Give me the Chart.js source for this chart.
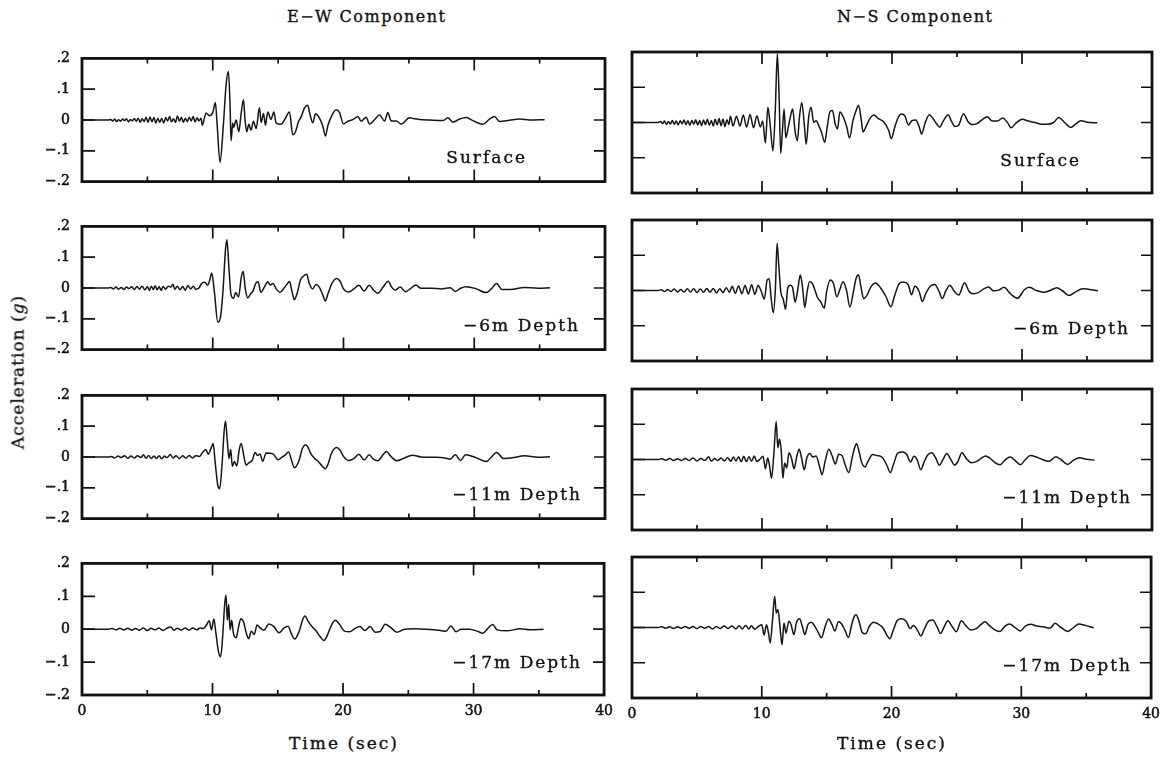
<!DOCTYPE html>
<html>
<head>
<meta charset="utf-8">
<script src="https://cdn.jsdelivr.net/npm/chart.js@4.4.1/dist/chart.umd.min.js"></script>
<style>
  body { margin: 0; background: #fff; width: 1164px; height: 768px; position: relative; overflow: hidden;
         font-family: "DejaVu Serif", serif; color: #111; }
  canvas { position: absolute; }
  .txt { position: absolute; white-space: nowrap; line-height: 1; -webkit-text-stroke: 0.35px #111; }
</style>
</head>
<body>
<script>
// tick positions and labels
const timeTicks = [5, 10, 15, 20, 25, 30, 35];
const accelTicks = [-0.1, 0, 0.1];
const componentTitles = ["E−W Component", "N−S Component"];
const depthLabels = ["Surface", "−6m Depth", "−11m Depth", "−17m Depth"];

// [time (s), acceleration (g)]
const ewSurface = [[0,0],[2.0,0],[2.2,.002],[2.35,-.003],[2.5,.003],[2.65,-.005],[2.8,.001],[2.95,-.004],[3.1,.003],[3.25,-.002],[3.4,.004],[3.55,-.006],[3.7,.002],[3.85,-.003],[4.0,.005],[4.15,-.004],[4.3,.006],[4.45,-.007],[4.6,.004],[4.75,-.005],[4.9,.009],[5.05,-.008],[5.2,.01],[5.35,-.006],[5.5,.008],[5.65,-.01],[5.8,.006],[5.95,-.007],[6.1,.005],[6.25,-.01],[6.4,.008],[6.55,-.003],[6.7,.011],[6.85,-.006],[7.0,.004],[7.15,-.008],[7.3,.013],[7.45,-.004],[7.6,.009],[7.75,-.007],[7.9,.006],[8.05,-.005],[8.2,.009],[8.35,-.003],[8.5,.011],[8.65,-.006],[8.8,.007],[8.95,-.003],[9.1,.006],[9.2,-.017],
  [9.49,.023],[9.74,.014],[10.0,.024],[10.2,.057],[10.33,-.011],[10.56,-.137],[10.82,-.011],[11.02,.114],[11.2,.158],[11.33,.039],[11.4,-.067],[11.53,-.01],[11.6,-.024],[11.79,0],[11.99,-.038],[12.17,.02],[12.35,.066],[12.47,0],[12.6,-.038],[12.76,-.014],[12.93,-.033],[13.11,-.004],[13.32,-.028],[13.57,.04],[13.7,-.008],[13.88,.021],[14.03,-.017],[14.21,.026],[14.46,.002],[14.67,.026],[14.85,-.01],[15.23,-.014],[15.48,0],[15.87,.026],[16.12,-.048],[16.33,-.038],[16.56,-.005],[16.76,.01],[17.02,.039],[17.27,.048],[17.4,.025],[17.65,-.009],[17.86,.02],[18.11,.01],[18.42,-.02],[18.62,-.052],[18.8,-.019],[19.06,.01],[19.44,.033],[19.69,.025],[20.0,-.013],[20.33,-.004],[20.71,.001],[21.1,.011],[21.35,-.004],[21.73,.009],[21.99,-.013],[22.37,.001],[22.76,.016],[23.14,-.003],[23.39,.024],[23.65,-.003],[24.03,-.003],[24.41,-.013],[25.05,.007],[25.43,.004],[25.82,.002],[26.58,0],[27.6,-.002],[27.98,.007],[28.37,-.007],[28.88,.003],[29.39,.008],[29.9,-.002],[30.66,-.014],[31.17,.003],[31.56,.011],[31.94,-.005],[32.7,-.001],[33.47,.003],[34.23,0],[35.38,.001]];

const ew6m = [[0,0],[2.0,0],[2.2,.002],[2.4,-.003],[2.6,.003],[2.8,-.004],[3.0,.002],[3.2,-.005],[3.4,.003],[3.6,-.002],[3.8,.004],[4.0,-.005],[4.2,.005],[4.4,-.004],[4.6,.006],[4.8,-.006],[5.0,.004],[5.15,-.007],[5.3,.006],[5.45,-.005],[5.6,.007],[5.75,-.006],[5.9,.004],[6.05,-.008],[6.2,.005],[6.4,-.004],[6.6,.006],[6.8,.003],[6.95,.012],[7.1,-.004],[7.3,.006],[7.5,-.006],[7.7,.005],[7.9,-.007],[8.1,.008],[8.3,-.003],[8.5,.006],[8.7,-.004],[8.95,0],
  [9.13,.014],[9.39,.019],[9.6,.009],[9.76,.024],[9.92,.049],[10.13,-.015],[10.39,-.111],[10.6,-.093],[10.79,-.005],[10.97,.122],[11.08,.157],[11.24,.064],[11.39,-.02],[11.58,-.034],[11.76,-.015],[11.97,-.029],[12.18,.034],[12.32,.054],[12.5,-.005],[12.68,-.032],[12.89,-.019],[13.08,-.01],[13.29,.015],[13.47,.02],[13.68,-.014],[13.95,.003],[14.21,.02],[14.39,.01],[14.6,.015],[14.87,-.004],[15.13,-.014],[15.39,-.004],[15.66,.011],[15.87,.021],[16.05,-.009],[16.24,-.038],[16.45,-.018],[16.71,.026],[16.97,.04],[17.18,.045],[17.37,.016],[17.63,-.003],[17.89,.011],[18.16,.002],[18.42,-.023],[18.61,-.042],[18.82,-.018],[19.08,.012],[19.47,.031],[19.74,.022],[20.0,-.003],[20.4,-.013],[20.79,-.003],[21.18,.009],[21.58,-.01],[21.97,.009],[22.29,-.007],[22.63,-.017],[23.03,.003],[23.42,.022],[23.68,.003],[23.95,-.007],[24.34,.003],[24.74,-.012],[25.13,-.002],[25.53,.01],[25.92,-.001],[26.71,-.001],[27.5,-.003],[28.16,.001],[28.55,-.011],[28.95,-.001],[29.34,.004],[30.13,-.002],[30.92,-.015],[31.32,-.002],[31.71,.015],[32.11,-.005],[32.76,-.005],[33.82,.002],[34.87,-.001],[35.79,.001]];

const ew11m = [[0,0],[2.0,0],[2.25,.002],[2.5,-.003],[2.75,.003],[3.0,-.002],[3.25,.004],[3.5,-.004],[3.75,.003],[4.0,-.003],[4.25,.004],[4.5,-.002],[4.7,.007],[4.9,-.004],[5.1,.005],[5.3,-.005],[5.5,.003],[5.7,-.005],[5.9,.004],[6.1,-.006],[6.3,.003],[6.5,-.002],[6.75,.008],[6.95,-.003],[7.2,.004],[7.45,-.005],[7.7,.004],[7.95,-.004],[8.2,.005],[8.45,-.003],[8.7,.004],[9.0,.002],
  [9.2,.014],[9.47,.024],[9.66,.009],[9.87,.029],[10.03,.044],[10.18,-.015],[10.39,-.093],[10.53,-.103],[10.71,-.025],[10.87,.083],[10.97,.117],[11.13,.044],[11.24,-.005],[11.37,.024],[11.5,-.03],[11.66,-.015],[11.84,-.029],[12.03,.025],[12.18,.044],[12.37,.005],[12.55,-.026],[12.76,-.019],[13.03,-.01],[13.24,.015],[13.42,.005],[13.61,.01],[13.82,-.014],[14.08,.013],[14.61,.01],[15.0,-.009],[15.26,-.002],[15.53,.006],[15.79,.016],[16.05,-.014],[16.24,-.035],[16.58,-.014],[16.84,.026],[17.11,.04],[17.29,.031],[17.5,.011],[17.76,-.003],[18.03,-.013],[18.34,-.028],[18.61,-.038],[18.82,-.023],[19.08,.012],[19.47,.031],[19.74,.022],[20.0,.002],[20.39,-.011],[20.79,-.005],[21.18,.009],[21.58,-.01],[21.97,.007],[22.29,-.007],[22.63,-.012],[23.03,.008],[23.29,.018],[23.6,.003],[24.08,-.012],[24.61,-.004],[25.26,.006],[25.92,0],[26.97,-.001],[27.76,-.003],[28.16,-.007],[28.55,.007],[28.95,-.011],[29.34,.007],[30.13,-.002],[30.92,-.015],[31.32,0],[31.71,.015],[32.24,-.005],[33.03,-.002],[33.82,.004],[34.87,-.001],[35.79,.001]];

const ew17m = [[0,0],[2.0,0],[2.3,.002],[2.6,-.002],[2.9,.003],[3.2,-.002],[3.5,.003],[3.8,-.003],[4.1,.002],[4.4,-.003],[4.7,.004],[5.0,-.004],[5.3,.003],[5.6,-.002],[5.9,.004],[6.2,-.004],[6.5,.003],[6.8,.007],[7.05,-.003],[7.3,.003],[7.6,-.003],[7.9,.004],[8.2,-.003],[8.5,.004],[8.8,-.002],[9.05,.004],[9.28,.002],
  [9.53,.012],[9.74,.026],[9.92,-.002],[10.1,.031],[10.26,-.012],[10.44,-.065],[10.62,-.084],[10.78,-.021],[10.93,.075],[11.03,.104],[11.14,.027],[11.24,.075],[11.34,-.002],[11.47,.027],[11.6,-.012],[11.81,-.026],[12.0,.008],[12.17,.032],[12.38,.022],[12.58,-.011],[12.77,-.029],[12.97,-.006],[13.2,-.016],[13.41,.013],[13.67,.003],[13.93,-.003],[14.32,.016],[14.7,.008],[15.09,-.011],[15.48,.004],[15.79,.009],[16.05,-.015],[16.3,-.03],[16.64,-.006],[16.9,.028],[17.08,.04],[17.34,.023],[17.6,.009],[17.93,-.005],[18.27,-.024],[18.53,-.034],[18.79,-.019],[19.1,.011],[19.41,.027],[19.74,.014],[20.08,-.005],[20.52,-.008],[20.9,.002],[21.29,.008],[21.68,-.004],[22.07,.008],[22.46,-.009],[22.84,-.007],[23.23,.015],[23.62,.006],[24.13,-.009],[24.65,-.001],[25.43,.001],[26.33,0],[27.36,-.003],[27.88,-.006],[28.27,.01],[28.66,-.008],[29.04,0],[29.69,0],[30.34,-.007],[30.72,-.012],[31.11,.003],[31.45,.014],[31.81,-.002],[32.53,-.005],[33.57,.001],[34.34,-.002],[35.37,0]];

const nsSurface = [[0,0],[2.0,0],[2.2,.003],[2.35,-.003],[2.5,.004],[2.65,-.005],[2.8,.003],[2.95,-.004],[3.1,.006],[3.25,-.005],[3.4,.004],[3.55,-.007],[3.7,.005],[3.85,-.004],[4.0,.007],[4.15,-.006],[4.3,.005],[4.45,-.008],[4.6,.006],[4.75,-.005],[4.9,.008],[5.05,-.007],[5.2,.006],[5.35,-.009],[5.5,.007],[5.65,-.006],[5.8,.009],[5.95,-.008],[6.1,.006],[6.25,-.01],[6.4,.009],[6.55,-.007],[6.7,.011],[6.85,-.009],[7.0,.01],[7.15,-.012],[7.3,.008],[7.45,-.006],
  [7.57,.018],[7.77,-.01],[8.04,.018],[8.3,-.01],[8.56,.021],[8.82,-.013],[9.08,.023],[9.35,-.015],[9.61,.019],[9.87,-.013],[10.05,.004],[10.26,-.058],[10.45,.043],[10.65,-.015],[10.84,-.081],[11.02,.033],[11.18,.195],[11.31,.081],[11.44,-.088],[11.57,-.024],[11.7,.038],[11.83,-.043],[12.02,-.014],[12.2,.019],[12.36,.038],[12.54,-.024],[12.72,-.052],[12.88,.015],[13.06,.057],[13.25,-.004],[13.4,-.062],[13.59,.015],[13.77,.043],[13.98,0],[14.16,.005],[14.37,-.009],[14.58,-.028],[14.82,-.056],[15.03,-.009],[15.21,.029],[15.42,.034],[15.63,-.004],[15.81,-.018],[15.99,.03],[16.26,.015],[16.52,-.013],[16.73,-.044],[17.0,.006],[17.25,.035],[17.43,.049],[17.64,.006],[17.77,-.027],[18.04,-.008],[18.3,.011],[18.61,.021],[18.95,.011],[19.35,.002],[19.74,-.022],[19.95,-.046],[20.18,-.017],[20.45,.012],[20.73,.024],[21.0,.018],[21.26,-.007],[21.52,.005],[21.83,.007],[22.09,-.012],[22.28,-.033],[22.54,-.002],[22.88,.022],[23.14,.012],[23.4,-.002],[23.66,-.013],[23.93,.003],[24.32,.022],[24.58,.003],[24.84,-.011],[25.1,-.009],[25.5,.025],[25.84,.003],[26.15,-.006],[26.54,-.003],[26.94,.008],[27.33,.016],[27.72,.004],[28.12,.004],[28.51,.013],[28.9,-.001],[29.16,-.015],[29.55,-.001],[30.03,.009],[30.47,.004],[30.99,0],[31.52,-.005],[31.91,-.005],[32.43,0],[32.83,.014],[33.22,.002],[33.74,-.014],[34.14,-.004],[34.53,.005],[35.05,.001],[35.79,-.001]];

const ns6m = [[0,0],[2.0,0],[2.25,.002],[2.5,-.003],[2.75,.003],[3.0,-.003],[3.25,.004],[3.5,-.004],[3.75,.003],[4.0,-.004],[4.25,.005],[4.5,-.004],[4.75,.005],[5.0,-.006],[5.25,.004],[5.5,-.005],[5.75,.006],[6.0,-.005],[6.25,.006],[6.5,-.007],[6.75,.005],[7.0,-.006],[7.25,.008],[7.5,-.005],[7.7,.012],[7.95,-.008],[8.2,.013],[8.45,-.009],[8.7,.014],[8.95,-.01],[9.2,.016],[9.45,-.011],[9.7,.015],[9.92,0],
  [10.18,-.024],[10.39,.029],[10.55,.033],[10.71,-.024],[10.87,-.063],[11.03,.005],[11.16,.134],[11.29,.072],[11.45,-.005],[11.63,-.024],[11.82,-.053],[11.97,.005],[12.16,.015],[12.34,.01],[12.55,-.033],[12.74,0],[12.95,.044],[13.13,.005],[13.29,-.048],[13.47,-.004],[13.66,.025],[13.87,.02],[14.08,0],[14.26,-.019],[14.53,-.033],[14.79,-.05],[14.97,-.004],[15.24,.03],[15.5,.02],[15.76,-.018],[15.97,.001],[16.24,.025],[16.5,.001],[16.76,-.047],[17.03,-.004],[17.24,.035],[17.42,.045],[17.61,.011],[17.82,-.023],[18.08,-.013],[18.39,.011],[18.74,.021],[19.13,.007],[19.53,-.017],[19.92,-.046],[20.18,-.017],[20.5,.016],[20.84,.024],[21.24,.017],[21.5,-.012],[21.76,.012],[22.08,-.002],[22.34,-.031],[22.61,-.007],[22.95,.012],[23.29,.017],[23.61,-.002],[23.87,-.023],[24.13,-.002],[24.45,.015],[24.79,-.002],[25.13,-.013],[25.58,.022],[25.92,-.002],[26.24,-.009],[26.63,-.006],[27.03,.004],[27.42,.01],[27.82,-.001],[28.21,.001],[28.61,.009],[29.13,-.01],[29.66,-.022],[30.18,.002],[30.58,.009],[31.11,0],[31.63,-.005],[32.16,0],[32.68,.008],[33.08,0],[33.61,-.014],[34.13,-.004],[34.66,.005],[35.84,-.001]];

const ns11m = [[0,0],[2.0,0],[2.3,.002],[2.6,-.002],[2.9,.003],[3.2,-.003],[3.5,.002],[3.8,-.003],[4.1,.003],[4.4,-.003],[4.7,.004],[5.0,-.004],[5.3,.003],[5.6,-.003],[5.9,.008],[6.1,-.005],[6.35,.003],[6.6,-.003],[6.85,.004],[7.1,-.004],[7.35,.005],[7.6,-.005],[7.8,.007],[8.0,-.004],[8.2,.008],[8.4,-.006],[8.6,.009],[8.8,-.006],[9.0,.008],[9.2,-.005],[9.4,.01],[9.6,-.006],[9.87,.002],
  [10.08,.009],[10.26,-.026],[10.44,.004],[10.57,-.015],[10.73,-.053],[10.91,.014],[11.09,.108],[11.22,.033],[11.35,.058],[11.48,.024],[11.61,-.053],[11.74,-.01],[11.9,-.024],[12.08,.019],[12.26,.005],[12.47,-.026],[12.68,.01],[12.86,.029],[13.04,.005],[13.25,-.029],[13.45,.005],[13.69,.017],[13.9,.007],[14.16,.01],[14.42,-.019],[14.62,-.043],[14.86,-.004],[15.14,.029],[15.4,.01],[15.64,-.013],[15.9,.015],[16.16,.011],[16.42,-.018],[16.68,-.037],[16.94,.006],[17.14,.035],[17.27,.045],[17.45,.025],[17.66,-.008],[17.92,-.021],[18.18,-.003],[18.52,.014],[18.83,.011],[19.22,.007],[19.61,-.017],[19.87,-.037],[20.13,-.012],[20.44,.018],[20.78,.021],[21.12,.015],[21.43,-.007],[21.69,.009],[21.95,-.002],[22.21,-.029],[22.47,-.007],[22.73,.012],[23.06,.019],[23.38,.003],[23.64,-.016],[23.9,-.002],[24.21,.017],[24.55,-.002],[24.81,-.016],[25.06,-.006],[25.38,.019],[25.71,.003],[26.1,-.009],[26.49,-.006],[26.88,.004],[27.19,.01],[27.53,.004],[27.92,-.009],[28.31,-.015],[28.7,-.001],[29.09,.007],[29.48,-.003],[29.87,-.015],[30.26,0],[30.65,.011],[31.04,.008],[31.56,0],[32.08,-.005],[32.6,.008],[32.99,0],[33.51,-.014],[33.9,-.004],[34.42,.005],[34.94,.001],[35.58,-.002]];

const ns17m = [[0,0],[2.0,0],[2.3,.002],[2.6,-.002],[2.9,.002],[3.2,-.003],[3.5,.002],[3.8,-.002],[4.1,.003],[4.4,-.002],[4.7,.003],[5.0,-.003],[5.3,.003],[5.6,-.002],[5.9,.003],[6.2,-.004],[6.5,.003],[6.8,-.003],[7.1,.004],[7.4,-.003],[7.7,.004],[8.0,-.004],[8.25,.005],[8.5,-.004],[8.75,.006],[9.0,-.004],[9.2,.005],[9.45,-.005],[9.74,.003],
  [10.0,.008],[10.18,-.021],[10.36,.008],[10.52,-.016],[10.65,-.044],[10.83,.022],[10.99,.089],[11.12,.041],[11.25,.051],[11.4,.003],[11.56,-.049],[11.71,.013],[11.87,-.016],[12.08,.018],[12.26,.008],[12.47,-.02],[12.68,.015],[12.91,.025],[13.12,.004],[13.32,-.02],[13.56,.009],[13.82,.015],[14.08,.004],[14.34,-.013],[14.6,-.029],[14.86,0],[15.14,.024],[15.4,.009],[15.64,-.01],[15.9,.016],[16.16,.01],[16.42,-.009],[16.68,-.028],[16.94,.01],[17.14,.032],[17.27,.036],[17.48,.019],[17.74,-.014],[18.0,-.018],[18.31,.005],[18.62,.015],[18.96,.01],[19.35,-.002],[19.66,-.023],[19.87,-.032],[20.13,-.008],[20.44,.02],[20.78,.025],[21.12,.018],[21.43,-.003],[21.69,.006],[22.0,-.008],[22.26,-.024],[22.52,-.005],[22.86,.018],[23.17,.021],[23.51,.002],[23.77,-.017],[24.03,0],[24.34,.019],[24.68,.002],[24.99,-.012],[25.38,.019],[25.71,.006],[26.1,-.007],[26.49,-.004],[26.88,.008],[27.19,.016],[27.53,.006],[27.92,-.006],[28.36,-.011],[28.75,.004],[29.09,.01],[29.48,.001],[29.92,-.01],[30.31,.004],[30.73,.009],[31.17,.004],[31.69,.002],[32.21,-.002],[32.6,.012],[33.06,0],[33.58,-.011],[34.03,0],[34.42,.01],[34.94,.006],[35.58,-.001]];

const records = [
  [ewSurface, ew6m, ew11m, ew17m],
  [nsSurface, ns6m, ns11m, ns17m]
];

// layout of the plot boxes
const colLeft = [82, 632];
const colRight = [605, 1152];
const rowTop = [[50, 218, 387, 555], [52, 220, 389, 557]];
const boxHeight = [140, 141];
const labelRight = [[525, 578, 580, 580], [1079, 1128, 1130, 1130]];

// inward ticks + heavy frame, positioned through the chart's own scales
const frameTicks = {
  id: "frameTicks",
  afterDatasetsDraw(chart) {
    const { ctx, chartArea: a, scales: { x, y } } = chart;
    ctx.save();
    ctx.strokeStyle = "#111";
    ctx.lineWidth = 1.7;
    ctx.beginPath();
    timeTicks.forEach((t) => {
      const px = x.getPixelForValue(t);
      const len = t % 10 === 0 ? 12 : 5;
      ctx.moveTo(px, a.top); ctx.lineTo(px, a.top + len);
      ctx.moveTo(px, a.bottom); ctx.lineTo(px, a.bottom - len);
    });
    accelTicks.forEach((v) => {
      const py = y.getPixelForValue(v);
      ctx.moveTo(a.left, py); ctx.lineTo(a.left + 13, py);
      ctx.moveTo(a.right, py); ctx.lineTo(a.right - 11, py);
    });
    ctx.stroke();
    ctx.lineWidth = 2.8;
    ctx.strokeRect(a.left, a.top, a.right - a.left, a.bottom - a.top);
    ctx.restore();
  }
};

const fmtAccel = (v) => {
  const n = Math.round(v * 10);
  return n === 0 ? "0" : (n < 0 ? "−" : "") + "." + Math.abs(n);
};

function addText(text, css) {
  const d = document.createElement("div");
  d.className = "txt";
  d.innerHTML = text;
  Object.assign(d.style, css);
  document.body.appendChild(d);
  return d;
}

records.forEach((column, col) => {
  column.forEach((trace, row) => {
    const bottomRow = row === 3;
    const yw = col === 0 ? 60 : 0;
    const padL = col === 0 ? 0 : 14;
    const padR = 16, padT = 12;
    const padB = bottomRow ? 4 : 12;
    const xh = bottomRow ? 30 : 0;
    const w = colRight[col] - colLeft[col];
    const h = boxHeight[col];

    const cv = document.createElement("canvas");
    cv.width = padL + yw + w + padR;
    cv.height = padT + h + xh + padB;
    cv.style.left = (colLeft[col] - yw - padL) + "px";
    cv.style.top = (rowTop[col][row] - padT) + "px";
    document.body.appendChild(cv);

    new Chart(cv, {
      type: "line",
      data: {
        datasets: [{
          data: trace.map(([t, a]) => ({ x: t, y: a })),
          borderColor: "#151515",
          borderWidth: 1.5,
          pointRadius: 0,
          cubicInterpolationMode: "monotone",
          fill: false
        }]
      },
      options: {
        responsive: false,
        animation: false,
        devicePixelRatio: 1,
        parsing: false,
        layout: { padding: { left: padL, right: padR, top: padT, bottom: padB } },
        plugins: { legend: { display: false }, tooltip: { enabled: false } },
        scales: {
          x: {
            type: "linear", min: 0, max: 40,
            grid: { display: false, drawTicks: false },
            border: { display: false },
            ticks: {
              display: bottomRow, stepSize: 10, padding: 8, maxRotation: 0,
              color: "#111", textStrokeColor: "#111", textStrokeWidth: 0.5,
              font: { family: "DejaVu Serif", size: 14 }
            },
            afterFit: (s) => { s.height = xh; }
          },
          y: {
            type: "linear", min: -0.2, max: 0.2,
            grid: { display: false, drawTicks: false },
            border: { display: false },
            ticks: {
              display: col === 0, stepSize: 0.1, padding: 12,
              color: "#111", textStrokeColor: "#111", textStrokeWidth: 0.5,
              font: { family: "DejaVu Serif", size: 14 },
              callback: fmtAccel
            },
            afterFit: (s) => { s.width = yw; }
          }
        }
      },
      plugins: [frameTicks]
    });

    // depth label inside the box
    const cy = rowTop[col][row] + h * 0.77;
    addText(depthLabels[row], {
      fontSize: "17px", letterSpacing: "2px",
      right: (1164 - labelRight[col][row] - 2) + "px",
      top: (cy - 17 * 0.49) + "px"
    });
  });
});

// column titles
addText(componentTitles[0], { fontSize: "16px", letterSpacing: "1.5px", left: "287px", top: (17 - 16 * 0.49) + "px" });
addText(componentTitles[1], { fontSize: "16px", letterSpacing: "1.5px", left: "837px", top: (17 - 16 * 0.49) + "px" });

// axis titles
[344, 892].forEach((cx) => {
  addText("Time (sec)", { fontSize: "17px", letterSpacing: "2px", left: cx + "px", top: (743 - 17 * 0.49) + "px", transform: "translateX(-50%)" });
});
addText("Acceleration (<i>g</i>)", {
  fontSize: "17px", letterSpacing: "1px", left: "18px", top: "372px",
  transform: "translate(-50%, -50%) rotate(-90deg)"
});
</script>
</body>
</html>
